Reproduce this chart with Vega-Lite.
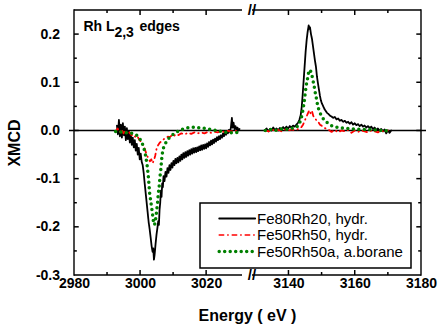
{
  "$schema": "https://vega.github.io/schema/vega-lite/v6.json",
  "autosize": {"type": "none"},
  "padding": {"left": 69, "top": 5, "right": 371, "bottom": 322},
  "background": "white",
  "spacing": 0,
  "bounds": "flush",
  "datasets": {
    "zero": [{"v": 0}],
    "xtL": [{"t": 2990, "a": -0.3, "b": -0.2938}, {"t": 2990, "a": 0.25, "b": 0.2438}, {"t": 3000, "a": -0.3, "b": -0.2896}, {"t": 3000, "a": 0.25, "b": 0.2396}, {"t": 3010, "a": -0.3, "b": -0.2938}, {"t": 3010, "a": 0.25, "b": 0.2438}, {"t": 3020, "a": -0.3, "b": -0.2896}, {"t": 3020, "a": 0.25, "b": 0.2396}],
    "xtR": [{"t": 3140, "a": -0.3, "b": -0.2896}, {"t": 3140, "a": 0.25, "b": 0.2396}, {"t": 3150, "a": -0.3, "b": -0.2938}, {"t": 3150, "a": 0.25, "b": 0.2438}, {"t": 3160, "a": -0.3, "b": -0.2896}, {"t": 3160, "a": 0.25, "b": 0.2396}, {"t": 3170, "a": -0.3, "b": -0.2938}, {"t": 3170, "a": 0.25, "b": 0.2438}],
    "ytL": [{"t": -0.25, "a": 2980, "b": 2980.86}, {"t": -0.2, "a": 2980, "b": 2981.43}, {"t": -0.15, "a": 2980, "b": 2980.86}, {"t": -0.1, "a": 2980, "b": 2981.43}, {"t": -0.05, "a": 2980, "b": 2980.86}, {"t": 0, "a": 2980, "b": 2981.43}, {"t": 0.05, "a": 2980, "b": 2980.86}, {"t": 0.1, "a": 2980, "b": 2981.43}, {"t": 0.15, "a": 2980, "b": 2980.86}, {"t": 0.2, "a": 2980, "b": 2981.43}],
    "ytR": [{"t": -0.25, "a": 3180, "b": 3179.15}, {"t": -0.2, "a": 3180, "b": 3178.58}, {"t": -0.15, "a": 3180, "b": 3179.15}, {"t": -0.1, "a": 3180, "b": 3178.58}, {"t": -0.05, "a": 3180, "b": 3179.15}, {"t": 0, "a": 3180, "b": 3178.58}, {"t": 0.05, "a": 3180, "b": 3179.15}, {"t": 0.1, "a": 3180, "b": 3178.58}, {"t": 0.15, "a": 3180, "b": 3179.15}, {"t": 0.2, "a": 3180, "b": 3178.58}],
    "xmcd": [
      {"s":"Fe80Rh20, hydr.","e":2993.0,"v":0.010},{"s":"Fe80Rh20, hydr.","e":2993.3,"v":-0.008},{"s":"Fe80Rh20, hydr.","e":2993.6,"v":0.022},{"s":"Fe80Rh20, hydr.","e":2993.9,"v":-0.012},{"s":"Fe80Rh20, hydr.","e":2994.2,"v":0.012},{"s":"Fe80Rh20, hydr.","e":2994.5,"v":-0.015},{"s":"Fe80Rh20, hydr.","e":2994.8,"v":0.015},{"s":"Fe80Rh20, hydr.","e":2995.1,"v":-0.010},{"s":"Fe80Rh20, hydr.","e":2995.4,"v":0.008},{"s":"Fe80Rh20, hydr.","e":2995.7,"v":-0.020},{"s":"Fe80Rh20, hydr.","e":2996.0,"v":0.005},{"s":"Fe80Rh20, hydr.","e":2996.3,"v":-0.018},{"s":"Fe80Rh20, hydr.","e":2996.6,"v":-0.002},{"s":"Fe80Rh20, hydr.","e":2996.9,"v":-0.025},{"s":"Fe80Rh20, hydr.","e":2997.2,"v":-0.008},{"s":"Fe80Rh20, hydr.","e":2997.5,"v":-0.030},{"s":"Fe80Rh20, hydr.","e":2997.8,"v":-0.015},{"s":"Fe80Rh20, hydr.","e":2998.1,"v":-0.035},{"s":"Fe80Rh20, hydr.","e":2998.4,"v":-0.020},{"s":"Fe80Rh20, hydr.","e":2998.7,"v":-0.042},{"s":"Fe80Rh20, hydr.","e":2999.0,"v":-0.028},{"s":"Fe80Rh20, hydr.","e":2999.3,"v":-0.050},{"s":"Fe80Rh20, hydr.","e":2999.6,"v":-0.036},{"s":"Fe80Rh20, hydr.","e":2999.9,"v":-0.060},{"s":"Fe80Rh20, hydr.","e":3000.2,"v":-0.048},{"s":"Fe80Rh20, hydr.","e":3000.5,"v":-0.065},{"s":"Fe80Rh20, hydr.","e":3000.8,"v":-0.072},{"s":"Fe80Rh20, hydr.","e":3001.1,"v":-0.088},{"s":"Fe80Rh20, hydr.","e":3001.4,"v":-0.110},{"s":"Fe80Rh20, hydr.","e":3001.7,"v":-0.130},{"s":"Fe80Rh20, hydr.","e":3002.0,"v":-0.150},{"s":"Fe80Rh20, hydr.","e":3002.3,"v":-0.170},{"s":"Fe80Rh20, hydr.","e":3002.6,"v":-0.190},{"s":"Fe80Rh20, hydr.","e":3002.9,"v":-0.205},{"s":"Fe80Rh20, hydr.","e":3003.2,"v":-0.222},{"s":"Fe80Rh20, hydr.","e":3003.5,"v":-0.240},{"s":"Fe80Rh20, hydr.","e":3003.8,"v":-0.252},{"s":"Fe80Rh20, hydr.","e":3004.0,"v":-0.245},{"s":"Fe80Rh20, hydr.","e":3004.2,"v":-0.268},{"s":"Fe80Rh20, hydr.","e":3004.4,"v":-0.258},{"s":"Fe80Rh20, hydr.","e":3004.7,"v":-0.235},{"s":"Fe80Rh20, hydr.","e":3005.0,"v":-0.215},{"s":"Fe80Rh20, hydr.","e":3005.3,"v":-0.200},{"s":"Fe80Rh20, hydr.","e":3005.5,"v":-0.188},{"s":"Fe80Rh20, hydr.","e":3005.7,"v":-0.196},{"s":"Fe80Rh20, hydr.","e":3005.9,"v":-0.165},{"s":"Fe80Rh20, hydr.","e":3006.1,"v":-0.150},{"s":"Fe80Rh20, hydr.","e":3006.3,"v":-0.125},{"s":"Fe80Rh20, hydr.","e":3006.5,"v":-0.138},{"s":"Fe80Rh20, hydr.","e":3006.7,"v":-0.110},{"s":"Fe80Rh20, hydr.","e":3006.9,"v":-0.118},{"s":"Fe80Rh20, hydr.","e":3007.1,"v":-0.095},{"s":"Fe80Rh20, hydr.","e":3007.4,"v":-0.105},{"s":"Fe80Rh20, hydr.","e":3007.7,"v":-0.086},{"s":"Fe80Rh20, hydr.","e":3008.0,"v":-0.096},{"s":"Fe80Rh20, hydr.","e":3008.3,"v":-0.078},{"s":"Fe80Rh20, hydr.","e":3008.6,"v":-0.088},{"s":"Fe80Rh20, hydr.","e":3008.9,"v":-0.072},{"s":"Fe80Rh20, hydr.","e":3009.2,"v":-0.082},{"s":"Fe80Rh20, hydr.","e":3009.5,"v":-0.068},{"s":"Fe80Rh20, hydr.","e":3009.8,"v":-0.077},{"s":"Fe80Rh20, hydr.","e":3010.1,"v":-0.063},{"s":"Fe80Rh20, hydr.","e":3010.4,"v":-0.072},{"s":"Fe80Rh20, hydr.","e":3010.7,"v":-0.059},{"s":"Fe80Rh20, hydr.","e":3011.0,"v":-0.068},{"s":"Fe80Rh20, hydr.","e":3011.3,"v":-0.057},{"s":"Fe80Rh20, hydr.","e":3011.6,"v":-0.066},{"s":"Fe80Rh20, hydr.","e":3011.9,"v":-0.054},{"s":"Fe80Rh20, hydr.","e":3012.2,"v":-0.063},{"s":"Fe80Rh20, hydr.","e":3012.5,"v":-0.050},{"s":"Fe80Rh20, hydr.","e":3012.8,"v":-0.060},{"s":"Fe80Rh20, hydr.","e":3013.1,"v":-0.047},{"s":"Fe80Rh20, hydr.","e":3013.4,"v":-0.057},{"s":"Fe80Rh20, hydr.","e":3013.7,"v":-0.045},{"s":"Fe80Rh20, hydr.","e":3014.0,"v":-0.055},{"s":"Fe80Rh20, hydr.","e":3014.3,"v":-0.043},{"s":"Fe80Rh20, hydr.","e":3014.6,"v":-0.052},{"s":"Fe80Rh20, hydr.","e":3014.9,"v":-0.041},{"s":"Fe80Rh20, hydr.","e":3015.2,"v":-0.050},{"s":"Fe80Rh20, hydr.","e":3015.5,"v":-0.039},{"s":"Fe80Rh20, hydr.","e":3015.8,"v":-0.048},{"s":"Fe80Rh20, hydr.","e":3016.1,"v":-0.037},{"s":"Fe80Rh20, hydr.","e":3016.4,"v":-0.046},{"s":"Fe80Rh20, hydr.","e":3016.7,"v":-0.036},{"s":"Fe80Rh20, hydr.","e":3017.0,"v":-0.045},{"s":"Fe80Rh20, hydr.","e":3017.3,"v":-0.035},{"s":"Fe80Rh20, hydr.","e":3017.6,"v":-0.043},{"s":"Fe80Rh20, hydr.","e":3017.9,"v":-0.033},{"s":"Fe80Rh20, hydr.","e":3018.2,"v":-0.041},{"s":"Fe80Rh20, hydr.","e":3018.5,"v":-0.031},{"s":"Fe80Rh20, hydr.","e":3018.8,"v":-0.040},{"s":"Fe80Rh20, hydr.","e":3019.1,"v":-0.030},{"s":"Fe80Rh20, hydr.","e":3019.4,"v":-0.038},{"s":"Fe80Rh20, hydr.","e":3019.7,"v":-0.029},{"s":"Fe80Rh20, hydr.","e":3020.0,"v":-0.037},{"s":"Fe80Rh20, hydr.","e":3020.3,"v":-0.027},{"s":"Fe80Rh20, hydr.","e":3020.6,"v":-0.034},{"s":"Fe80Rh20, hydr.","e":3020.9,"v":-0.024},{"s":"Fe80Rh20, hydr.","e":3021.2,"v":-0.031},{"s":"Fe80Rh20, hydr.","e":3021.5,"v":-0.021},{"s":"Fe80Rh20, hydr.","e":3021.8,"v":-0.029},{"s":"Fe80Rh20, hydr.","e":3022.1,"v":-0.019},{"s":"Fe80Rh20, hydr.","e":3022.4,"v":-0.026},{"s":"Fe80Rh20, hydr.","e":3022.7,"v":-0.017},{"s":"Fe80Rh20, hydr.","e":3023.0,"v":-0.023},{"s":"Fe80Rh20, hydr.","e":3023.3,"v":-0.014},{"s":"Fe80Rh20, hydr.","e":3023.6,"v":-0.020},{"s":"Fe80Rh20, hydr.","e":3023.9,"v":-0.012},{"s":"Fe80Rh20, hydr.","e":3024.2,"v":-0.018},{"s":"Fe80Rh20, hydr.","e":3024.5,"v":-0.010},{"s":"Fe80Rh20, hydr.","e":3024.8,"v":-0.015},{"s":"Fe80Rh20, hydr.","e":3025.1,"v":-0.006},{"s":"Fe80Rh20, hydr.","e":3025.4,"v":-0.012},{"s":"Fe80Rh20, hydr.","e":3025.7,"v":-0.003},{"s":"Fe80Rh20, hydr.","e":3026.0,"v":-0.009},{"s":"Fe80Rh20, hydr.","e":3026.3,"v":-0.001},{"s":"Fe80Rh20, hydr.","e":3026.6,"v":-0.006},{"s":"Fe80Rh20, hydr.","e":3026.9,"v":0.001},{"s":"Fe80Rh20, hydr.","e":3027.2,"v":-0.003},{"s":"Fe80Rh20, hydr.","e":3027.5,"v":0.006},{"s":"Fe80Rh20, hydr.","e":3027.8,"v":0.026},{"s":"Fe80Rh20, hydr.","e":3028.0,"v":0.006},{"s":"Fe80Rh20, hydr.","e":3028.3,"v":0.016},{"s":"Fe80Rh20, hydr.","e":3028.6,"v":0.003},{"s":"Fe80Rh20, hydr.","e":3028.9,"v":0.009},{"s":"Fe80Rh20, hydr.","e":3029.2,"v":0.001},{"s":"Fe80Rh20, hydr.","e":3029.5,"v":0.006},{"s":"Fe80Rh20, hydr.","e":3029.8,"v":0.000},{"s":"Fe80Rh20, hydr.","e":3030.1,"v":0.003},
      {"s":"Fe80Rh20, hydr.","e":3132.9,"v":0.000},{"s":"Fe80Rh20, hydr.","e":3133.4,"v":0.004},{"s":"Fe80Rh20, hydr.","e":3133.9,"v":-0.002},{"s":"Fe80Rh20, hydr.","e":3134.4,"v":0.003},{"s":"Fe80Rh20, hydr.","e":3134.9,"v":0.000},{"s":"Fe80Rh20, hydr.","e":3135.4,"v":0.006},{"s":"Fe80Rh20, hydr.","e":3135.9,"v":0.001},{"s":"Fe80Rh20, hydr.","e":3136.4,"v":0.004},{"s":"Fe80Rh20, hydr.","e":3136.9,"v":0.000},{"s":"Fe80Rh20, hydr.","e":3137.4,"v":0.005},{"s":"Fe80Rh20, hydr.","e":3137.9,"v":0.002},{"s":"Fe80Rh20, hydr.","e":3138.4,"v":0.007},{"s":"Fe80Rh20, hydr.","e":3138.9,"v":0.003},{"s":"Fe80Rh20, hydr.","e":3139.4,"v":0.008},{"s":"Fe80Rh20, hydr.","e":3139.9,"v":0.004},{"s":"Fe80Rh20, hydr.","e":3140.4,"v":0.009},{"s":"Fe80Rh20, hydr.","e":3140.9,"v":0.006},{"s":"Fe80Rh20, hydr.","e":3141.4,"v":0.010},{"s":"Fe80Rh20, hydr.","e":3141.9,"v":0.008},{"s":"Fe80Rh20, hydr.","e":3142.4,"v":0.012},{"s":"Fe80Rh20, hydr.","e":3142.9,"v":0.016},{"s":"Fe80Rh20, hydr.","e":3143.3,"v":0.022},{"s":"Fe80Rh20, hydr.","e":3143.7,"v":0.032},{"s":"Fe80Rh20, hydr.","e":3144.0,"v":0.048},{"s":"Fe80Rh20, hydr.","e":3144.3,"v":0.075},{"s":"Fe80Rh20, hydr.","e":3144.6,"v":0.105},{"s":"Fe80Rh20, hydr.","e":3144.9,"v":0.135},{"s":"Fe80Rh20, hydr.","e":3145.2,"v":0.165},{"s":"Fe80Rh20, hydr.","e":3145.5,"v":0.188},{"s":"Fe80Rh20, hydr.","e":3145.8,"v":0.205},{"s":"Fe80Rh20, hydr.","e":3146.1,"v":0.218},{"s":"Fe80Rh20, hydr.","e":3146.3,"v":0.211},{"s":"Fe80Rh20, hydr.","e":3146.5,"v":0.214},{"s":"Fe80Rh20, hydr.","e":3146.8,"v":0.200},{"s":"Fe80Rh20, hydr.","e":3147.1,"v":0.190},{"s":"Fe80Rh20, hydr.","e":3147.4,"v":0.175},{"s":"Fe80Rh20, hydr.","e":3147.7,"v":0.160},{"s":"Fe80Rh20, hydr.","e":3148.0,"v":0.145},{"s":"Fe80Rh20, hydr.","e":3148.3,"v":0.132},{"s":"Fe80Rh20, hydr.","e":3148.6,"v":0.112},{"s":"Fe80Rh20, hydr.","e":3148.9,"v":0.098},{"s":"Fe80Rh20, hydr.","e":3149.2,"v":0.085},{"s":"Fe80Rh20, hydr.","e":3149.5,"v":0.072},{"s":"Fe80Rh20, hydr.","e":3149.8,"v":0.062},{"s":"Fe80Rh20, hydr.","e":3150.1,"v":0.056},{"s":"Fe80Rh20, hydr.","e":3150.5,"v":0.050},{"s":"Fe80Rh20, hydr.","e":3150.9,"v":0.044},{"s":"Fe80Rh20, hydr.","e":3151.3,"v":0.040},{"s":"Fe80Rh20, hydr.","e":3151.7,"v":0.036},{"s":"Fe80Rh20, hydr.","e":3152.1,"v":0.034},{"s":"Fe80Rh20, hydr.","e":3152.5,"v":0.031},{"s":"Fe80Rh20, hydr.","e":3153.0,"v":0.029},{"s":"Fe80Rh20, hydr.","e":3153.5,"v":0.026},{"s":"Fe80Rh20, hydr.","e":3154.0,"v":0.028},{"s":"Fe80Rh20, hydr.","e":3154.5,"v":0.023},{"s":"Fe80Rh20, hydr.","e":3155.0,"v":0.025},{"s":"Fe80Rh20, hydr.","e":3155.5,"v":0.020},{"s":"Fe80Rh20, hydr.","e":3156.0,"v":0.022},{"s":"Fe80Rh20, hydr.","e":3156.5,"v":0.018},{"s":"Fe80Rh20, hydr.","e":3157.0,"v":0.020},{"s":"Fe80Rh20, hydr.","e":3157.5,"v":0.016},{"s":"Fe80Rh20, hydr.","e":3158.0,"v":0.018},{"s":"Fe80Rh20, hydr.","e":3158.5,"v":0.014},{"s":"Fe80Rh20, hydr.","e":3159.0,"v":0.017},{"s":"Fe80Rh20, hydr.","e":3159.5,"v":0.012},{"s":"Fe80Rh20, hydr.","e":3160.0,"v":0.015},{"s":"Fe80Rh20, hydr.","e":3160.5,"v":0.011},{"s":"Fe80Rh20, hydr.","e":3161.0,"v":0.013},{"s":"Fe80Rh20, hydr.","e":3161.5,"v":0.009},{"s":"Fe80Rh20, hydr.","e":3162.0,"v":0.012},{"s":"Fe80Rh20, hydr.","e":3162.5,"v":0.008},{"s":"Fe80Rh20, hydr.","e":3163.0,"v":0.010},{"s":"Fe80Rh20, hydr.","e":3163.5,"v":0.006},{"s":"Fe80Rh20, hydr.","e":3164.0,"v":0.009},{"s":"Fe80Rh20, hydr.","e":3164.5,"v":0.005},{"s":"Fe80Rh20, hydr.","e":3165.0,"v":0.008},{"s":"Fe80Rh20, hydr.","e":3165.5,"v":0.003},{"s":"Fe80Rh20, hydr.","e":3166.0,"v":0.006},{"s":"Fe80Rh20, hydr.","e":3166.5,"v":0.001},{"s":"Fe80Rh20, hydr.","e":3167.0,"v":0.004},{"s":"Fe80Rh20, hydr.","e":3167.5,"v":0.000},{"s":"Fe80Rh20, hydr.","e":3168.0,"v":0.003},{"s":"Fe80Rh20, hydr.","e":3168.5,"v":-0.002},{"s":"Fe80Rh20, hydr.","e":3169.0,"v":0.002},{"s":"Fe80Rh20, hydr.","e":3169.5,"v":-0.006},{"s":"Fe80Rh20, hydr.","e":3170.0,"v":0.000},{"s":"Fe80Rh20, hydr.","e":3170.5,"v":-0.005},{"s":"Fe80Rh20, hydr.","e":3171.0,"v":0.000},
      {"s":"Fe50Rh50, hydr.","e":2992.6,"v":-0.002},{"s":"Fe50Rh50, hydr.","e":2993.2,"v":0.004},{"s":"Fe50Rh50, hydr.","e":2993.8,"v":-0.004},{"s":"Fe50Rh50, hydr.","e":2994.4,"v":0.002},{"s":"Fe50Rh50, hydr.","e":2995.0,"v":-0.006},{"s":"Fe50Rh50, hydr.","e":2995.6,"v":0.000},{"s":"Fe50Rh50, hydr.","e":2996.2,"v":-0.008},{"s":"Fe50Rh50, hydr.","e":2996.8,"v":-0.004},{"s":"Fe50Rh50, hydr.","e":2997.4,"v":-0.010},{"s":"Fe50Rh50, hydr.","e":2998.0,"v":-0.008},{"s":"Fe50Rh50, hydr.","e":2998.6,"v":-0.014},{"s":"Fe50Rh50, hydr.","e":2999.2,"v":-0.012},{"s":"Fe50Rh50, hydr.","e":2999.8,"v":-0.020},{"s":"Fe50Rh50, hydr.","e":3000.4,"v":-0.024},{"s":"Fe50Rh50, hydr.","e":3001.0,"v":-0.030},{"s":"Fe50Rh50, hydr.","e":3001.5,"v":-0.040},{"s":"Fe50Rh50, hydr.","e":3002.0,"v":-0.050},{"s":"Fe50Rh50, hydr.","e":3002.5,"v":-0.058},{"s":"Fe50Rh50, hydr.","e":3003.0,"v":-0.064},{"s":"Fe50Rh50, hydr.","e":3003.4,"v":-0.060},{"s":"Fe50Rh50, hydr.","e":3003.8,"v":-0.068},{"s":"Fe50Rh50, hydr.","e":3004.2,"v":-0.062},{"s":"Fe50Rh50, hydr.","e":3004.6,"v":-0.052},{"s":"Fe50Rh50, hydr.","e":3005.0,"v":-0.038},{"s":"Fe50Rh50, hydr.","e":3005.5,"v":-0.030},{"s":"Fe50Rh50, hydr.","e":3006.0,"v":-0.025},{"s":"Fe50Rh50, hydr.","e":3006.6,"v":-0.022},{"s":"Fe50Rh50, hydr.","e":3007.2,"v":-0.018},{"s":"Fe50Rh50, hydr.","e":3007.8,"v":-0.016},{"s":"Fe50Rh50, hydr.","e":3008.4,"v":-0.013},{"s":"Fe50Rh50, hydr.","e":3009.0,"v":-0.014},{"s":"Fe50Rh50, hydr.","e":3009.6,"v":-0.010},{"s":"Fe50Rh50, hydr.","e":3010.2,"v":-0.012},{"s":"Fe50Rh50, hydr.","e":3010.8,"v":-0.008},{"s":"Fe50Rh50, hydr.","e":3011.5,"v":-0.010},{"s":"Fe50Rh50, hydr.","e":3012.5,"v":-0.006},{"s":"Fe50Rh50, hydr.","e":3013.5,"v":-0.008},{"s":"Fe50Rh50, hydr.","e":3014.5,"v":-0.005},{"s":"Fe50Rh50, hydr.","e":3015.5,"v":-0.007},{"s":"Fe50Rh50, hydr.","e":3016.5,"v":-0.004},{"s":"Fe50Rh50, hydr.","e":3017.5,"v":-0.006},{"s":"Fe50Rh50, hydr.","e":3018.5,"v":-0.004},{"s":"Fe50Rh50, hydr.","e":3019.5,"v":-0.006},{"s":"Fe50Rh50, hydr.","e":3020.5,"v":-0.003},{"s":"Fe50Rh50, hydr.","e":3021.5,"v":-0.005},{"s":"Fe50Rh50, hydr.","e":3022.5,"v":-0.003},{"s":"Fe50Rh50, hydr.","e":3023.5,"v":-0.004},{"s":"Fe50Rh50, hydr.","e":3024.5,"v":-0.002},{"s":"Fe50Rh50, hydr.","e":3025.5,"v":-0.003},{"s":"Fe50Rh50, hydr.","e":3026.5,"v":-0.001},{"s":"Fe50Rh50, hydr.","e":3027.5,"v":-0.002},{"s":"Fe50Rh50, hydr.","e":3028.5,"v":0.000},{"s":"Fe50Rh50, hydr.","e":3029.5,"v":-0.002},{"s":"Fe50Rh50, hydr.","e":3030.2,"v":0.000},
      {"s":"Fe50Rh50, hydr.","e":3133.0,"v":0.000},{"s":"Fe50Rh50, hydr.","e":3134.0,"v":-0.002},{"s":"Fe50Rh50, hydr.","e":3135.0,"v":0.002},{"s":"Fe50Rh50, hydr.","e":3136.0,"v":-0.001},{"s":"Fe50Rh50, hydr.","e":3137.0,"v":0.001},{"s":"Fe50Rh50, hydr.","e":3138.0,"v":-0.002},{"s":"Fe50Rh50, hydr.","e":3139.0,"v":0.002},{"s":"Fe50Rh50, hydr.","e":3140.0,"v":0.000},{"s":"Fe50Rh50, hydr.","e":3141.0,"v":0.002},{"s":"Fe50Rh50, hydr.","e":3142.0,"v":0.001},{"s":"Fe50Rh50, hydr.","e":3143.0,"v":0.003},{"s":"Fe50Rh50, hydr.","e":3143.8,"v":0.006},{"s":"Fe50Rh50, hydr.","e":3144.4,"v":0.012},{"s":"Fe50Rh50, hydr.","e":3144.9,"v":0.020},{"s":"Fe50Rh50, hydr.","e":3145.4,"v":0.028},{"s":"Fe50Rh50, hydr.","e":3145.9,"v":0.036},{"s":"Fe50Rh50, hydr.","e":3146.3,"v":0.042},{"s":"Fe50Rh50, hydr.","e":3146.7,"v":0.035},{"s":"Fe50Rh50, hydr.","e":3147.1,"v":0.040},{"s":"Fe50Rh50, hydr.","e":3147.5,"v":0.030},{"s":"Fe50Rh50, hydr.","e":3148.0,"v":0.026},{"s":"Fe50Rh50, hydr.","e":3148.5,"v":0.020},{"s":"Fe50Rh50, hydr.","e":3149.0,"v":0.018},{"s":"Fe50Rh50, hydr.","e":3149.5,"v":0.012},{"s":"Fe50Rh50, hydr.","e":3150.0,"v":0.010},{"s":"Fe50Rh50, hydr.","e":3150.6,"v":0.006},{"s":"Fe50Rh50, hydr.","e":3151.3,"v":0.004},{"s":"Fe50Rh50, hydr.","e":3152.0,"v":0.002},{"s":"Fe50Rh50, hydr.","e":3153.0,"v":-0.003},{"s":"Fe50Rh50, hydr.","e":3154.0,"v":0.001},{"s":"Fe50Rh50, hydr.","e":3155.0,"v":-0.004},{"s":"Fe50Rh50, hydr.","e":3156.0,"v":0.000},{"s":"Fe50Rh50, hydr.","e":3157.0,"v":-0.002},{"s":"Fe50Rh50, hydr.","e":3158.0,"v":0.001},{"s":"Fe50Rh50, hydr.","e":3159.0,"v":-0.005},{"s":"Fe50Rh50, hydr.","e":3160.0,"v":0.000},{"s":"Fe50Rh50, hydr.","e":3161.0,"v":-0.003},{"s":"Fe50Rh50, hydr.","e":3162.0,"v":0.000},{"s":"Fe50Rh50, hydr.","e":3163.0,"v":-0.002},{"s":"Fe50Rh50, hydr.","e":3164.0,"v":-0.004},{"s":"Fe50Rh50, hydr.","e":3165.0,"v":0.000},{"s":"Fe50Rh50, hydr.","e":3166.0,"v":-0.002},{"s":"Fe50Rh50, hydr.","e":3167.0,"v":-0.004},{"s":"Fe50Rh50, hydr.","e":3168.0,"v":0.000},{"s":"Fe50Rh50, hydr.","e":3169.0,"v":-0.003},{"s":"Fe50Rh50, hydr.","e":3170.0,"v":0.000},
      {"s":"Fe50Rh50a, a.borane","e":2992.6,"v":-0.002},{"s":"Fe50Rh50a, a.borane","e":2993.6,"v":-0.004},{"s":"Fe50Rh50a, a.borane","e":2994.6,"v":-0.003},{"s":"Fe50Rh50a, a.borane","e":2995.6,"v":-0.005},{"s":"Fe50Rh50a, a.borane","e":2996.6,"v":-0.004},{"s":"Fe50Rh50a, a.borane","e":2997.6,"v":-0.006},{"s":"Fe50Rh50a, a.borane","e":2998.6,"v":-0.008},{"s":"Fe50Rh50a, a.borane","e":2999.4,"v":-0.012},{"s":"Fe50Rh50a, a.borane","e":3000.0,"v":-0.018},{"s":"Fe50Rh50a, a.borane","e":3000.6,"v":-0.026},{"s":"Fe50Rh50a, a.borane","e":3001.1,"v":-0.035},{"s":"Fe50Rh50a, a.borane","e":3001.6,"v":-0.050},{"s":"Fe50Rh50a, a.borane","e":3002.1,"v":-0.070},{"s":"Fe50Rh50a, a.borane","e":3002.5,"v":-0.095},{"s":"Fe50Rh50a, a.borane","e":3002.9,"v":-0.130},{"s":"Fe50Rh50a, a.borane","e":3003.3,"v":-0.150},{"s":"Fe50Rh50a, a.borane","e":3003.7,"v":-0.170},{"s":"Fe50Rh50a, a.borane","e":3004.1,"v":-0.192},{"s":"Fe50Rh50a, a.borane","e":3004.4,"v":-0.196},{"s":"Fe50Rh50a, a.borane","e":3004.7,"v":-0.185},{"s":"Fe50Rh50a, a.borane","e":3005.0,"v":-0.168},{"s":"Fe50Rh50a, a.borane","e":3005.3,"v":-0.150},{"s":"Fe50Rh50a, a.borane","e":3005.5,"v":-0.133},{"s":"Fe50Rh50a, a.borane","e":3005.8,"v":-0.115},{"s":"Fe50Rh50a, a.borane","e":3006.0,"v":-0.098},{"s":"Fe50Rh50a, a.borane","e":3006.3,"v":-0.080},{"s":"Fe50Rh50a, a.borane","e":3006.5,"v":-0.062},{"s":"Fe50Rh50a, a.borane","e":3006.8,"v":-0.045},{"s":"Fe50Rh50a, a.borane","e":3007.2,"v":-0.033},{"s":"Fe50Rh50a, a.borane","e":3007.9,"v":-0.024},{"s":"Fe50Rh50a, a.borane","e":3008.6,"v":-0.017},{"s":"Fe50Rh50a, a.borane","e":3009.3,"v":-0.012},{"s":"Fe50Rh50a, a.borane","e":3010.2,"v":-0.007},{"s":"Fe50Rh50a, a.borane","e":3011.2,"v":-0.003},{"s":"Fe50Rh50a, a.borane","e":3012.5,"v":0.002},{"s":"Fe50Rh50a, a.borane","e":3014.0,"v":0.005},{"s":"Fe50Rh50a, a.borane","e":3015.5,"v":0.007},{"s":"Fe50Rh50a, a.borane","e":3017.0,"v":0.006},{"s":"Fe50Rh50a, a.borane","e":3018.5,"v":0.005},{"s":"Fe50Rh50a, a.borane","e":3020.0,"v":0.004},{"s":"Fe50Rh50a, a.borane","e":3021.5,"v":0.002},{"s":"Fe50Rh50a, a.borane","e":3023.0,"v":0.000},{"s":"Fe50Rh50a, a.borane","e":3024.5,"v":-0.002},{"s":"Fe50Rh50a, a.borane","e":3026.0,"v":-0.004},{"s":"Fe50Rh50a, a.borane","e":3027.5,"v":-0.005},{"s":"Fe50Rh50a, a.borane","e":3029.0,"v":-0.004},{"s":"Fe50Rh50a, a.borane","e":3030.2,"v":-0.004},
      {"s":"Fe50Rh50a, a.borane","e":3133.0,"v":0.000},{"s":"Fe50Rh50a, a.borane","e":3134.5,"v":0.002},{"s":"Fe50Rh50a, a.borane","e":3136.0,"v":0.000},{"s":"Fe50Rh50a, a.borane","e":3137.5,"v":0.003},{"s":"Fe50Rh50a, a.borane","e":3139.0,"v":0.002},{"s":"Fe50Rh50a, a.borane","e":3140.5,"v":0.004},{"s":"Fe50Rh50a, a.borane","e":3142.0,"v":0.005},{"s":"Fe50Rh50a, a.borane","e":3143.0,"v":0.010},{"s":"Fe50Rh50a, a.borane","e":3143.6,"v":0.020},{"s":"Fe50Rh50a, a.borane","e":3144.1,"v":0.032},{"s":"Fe50Rh50a, a.borane","e":3144.5,"v":0.048},{"s":"Fe50Rh50a, a.borane","e":3144.8,"v":0.062},{"s":"Fe50Rh50a, a.borane","e":3145.1,"v":0.080},{"s":"Fe50Rh50a, a.borane","e":3145.4,"v":0.095},{"s":"Fe50Rh50a, a.borane","e":3145.7,"v":0.105},{"s":"Fe50Rh50a, a.borane","e":3146.0,"v":0.118},{"s":"Fe50Rh50a, a.borane","e":3146.4,"v":0.126},{"s":"Fe50Rh50a, a.borane","e":3146.8,"v":0.122},{"s":"Fe50Rh50a, a.borane","e":3147.1,"v":0.114},{"s":"Fe50Rh50a, a.borane","e":3147.4,"v":0.104},{"s":"Fe50Rh50a, a.borane","e":3147.8,"v":0.090},{"s":"Fe50Rh50a, a.borane","e":3148.1,"v":0.078},{"s":"Fe50Rh50a, a.borane","e":3148.5,"v":0.064},{"s":"Fe50Rh50a, a.borane","e":3148.8,"v":0.052},{"s":"Fe50Rh50a, a.borane","e":3149.2,"v":0.042},{"s":"Fe50Rh50a, a.borane","e":3149.7,"v":0.034},{"s":"Fe50Rh50a, a.borane","e":3150.3,"v":0.026},{"s":"Fe50Rh50a, a.borane","e":3151.0,"v":0.020},{"s":"Fe50Rh50a, a.borane","e":3151.9,"v":0.015},{"s":"Fe50Rh50a, a.borane","e":3153.0,"v":0.010},{"s":"Fe50Rh50a, a.borane","e":3154.3,"v":0.007},{"s":"Fe50Rh50a, a.borane","e":3156.0,"v":0.005},{"s":"Fe50Rh50a, a.borane","e":3158.0,"v":0.004},{"s":"Fe50Rh50a, a.borane","e":3160.0,"v":0.003},{"s":"Fe50Rh50a, a.borane","e":3162.0,"v":0.002},{"s":"Fe50Rh50a, a.borane","e":3164.0,"v":0.002},{"s":"Fe50Rh50a, a.borane","e":3166.0,"v":0.001},{"s":"Fe50Rh50a, a.borane","e":3168.0,"v":0.000},{"s":"Fe50Rh50a, a.borane","e":3170.0,"v":-0.001}
    ]
  },
  "hconcat": [
    {
      "width": 178,
      "height": 275,
      "resolve": {"axis": {"x": "independent", "y": "independent"}},
      "layer": [
        {
          "data": {"name": "zero"},
          "mark": {"type": "rule", "color": "black", "strokeWidth": 1.5},
          "encoding": {
            "y": {"field": "v", "type": "quantitative", "scale": {"domain": [-0.3, 0.25], "nice": false, "zero": false}, "axis": null}
          }
        },
        {
          "data": {"values": [{}]},
          "mark": {"type": "rect", "color": "black"},
          "encoding": {
            "x": {"datum": 2980, "type": "quantitative", "scale": {"domain": [2980, 3030.86], "nice": false, "zero": false}, "axis": null},
            "x2": {"datum": 3030.86},
            "y": {"datum": 0.25156, "type": "quantitative", "scale": {"domain": [-0.3, 0.25], "nice": false, "zero": false}, "axis": null},
            "y2": {"datum": 0.24844}
          }
        },
        {
          "data": {"values": [{}]},
          "mark": {"type": "rect", "color": "black"},
          "encoding": {
            "x": {"datum": 2980, "type": "quantitative", "axis": null},
            "x2": {"datum": 3030.86},
            "y": {"datum": -0.29844, "type": "quantitative", "axis": null},
            "y2": {"datum": -0.30156}
          }
        },
        {
          "data": {"values": [{}]},
          "mark": {"type": "rect", "color": "black"},
          "encoding": {
            "x": {"datum": 2979.786, "type": "quantitative", "axis": null},
            "x2": {"datum": 2980.214},
            "y": {"datum": -0.30156, "type": "quantitative", "axis": null},
            "y2": {"datum": 0.25156}
          }
        },
        {
          "data": {"name": "xtL"},
          "mark": {"type": "bar", "color": "black", "width": 1.5},
          "encoding": {
            "x": {"field": "t", "type": "quantitative", "axis": null},
            "y": {"field": "a", "type": "quantitative", "axis": null},
            "y2": {"field": "b"}
          }
        },
        {
          "data": {"name": "ytL"},
          "mark": {"type": "bar", "color": "black", "height": 1.5},
          "encoding": {
            "y": {"field": "t", "type": "quantitative", "axis": null},
            "x": {"field": "a", "type": "quantitative", "axis": null},
            "x2": {"field": "b"}
          }
        },
        {
          "data": {"name": "xmcd"},
          "transform": [{"filter": "datum.e < 3100"}],
          "mark": {"type": "line", "strokeCap": "round", "strokeJoin": "round"},
          "encoding": {
            "x": {"field": "e", "type": "quantitative",
                  "scale": {"domain": [2980, 3030.86], "nice": false, "zero": false},
                  "axis": {"orient": "bottom", "values": [2980, 3000, 3020], "format": "d",
                           "domain": false, "ticks": false,
                           "labelPadding": -4, "labelFlush": false, "labelOverlap": false,
                           "title": "Energy ( eV )", "titleX": 178, "titleY": 35, "titleBaseline": "middle", "titleAlign": "center"}},
            "y": {"field": "v", "type": "quantitative",
                  "scale": {"domain": [-0.3, 0.25], "nice": false, "zero": false},
                  "axis": {"orient": "left", "values": [-0.3, -0.2, -0.1, 0, 0.1, 0.2],
                           "format": ".1f",
                           "domain": false, "ticks": false,
                           "labelPadding": 9.5, "labelFlush": false, "labelOverlap": false,
                           "title": "XMCD", "titleX": -55, "titleY": 137.5, "titleBaseline": "middle", "titleAlign": "center", "titleAngle": 270}},
            "color": {"field": "s", "type": "nominal",
                      "scale": {"domain": ["Fe80Rh20, hydr.", "Fe50Rh50, hydr.", "Fe50Rh50a, a.borane"], "range": ["black", "#ff0000", "#008000"]},
                      "legend": {"title": null,
                                 "encode": {"symbols": {"update": {"strokeCap": {"value": "round"},
                                                                   "strokeWidth": {"signal": "datum.value == 'Fe50Rh50a, a.borane' ? 3.5 : (datum.value == 'Fe50Rh50, hydr.' ? 1.5 : 1.8)"}}},
                                            "legend": {"update": {"strokeWidth": {"value": 1.5}}}}}},
            "strokeDash": {"field": "s", "type": "nominal",
                      "scale": {"domain": ["Fe80Rh20, hydr.", "Fe50Rh50, hydr.", "Fe50Rh50a, a.borane"], "range": [[1, 0], [4.5, 4, 0.5, 4], [0, 5.5]]},
                      "legend": {"title": null}},
            "strokeWidth": {"condition": {"test": "datum.s == 'Fe50Rh50a, a.borane'", "value": 3.5},
                            "value": 1.8}
          }
        },
        {
          "data": {"values": [{}]},
          "mark": {"type": "text", "text": "Rh L", "align": "left", "baseline": "alphabetic", "font": "Liberation Sans", "fontWeight": "bold", "fontSize": 14, "color": "black"},
          "encoding": {
            "x": {"datum": 2982.86, "type": "quantitative", "axis": null},
            "y": {"datum": 0.207, "type": "quantitative", "axis": null}
          }
        },
        {
          "data": {"values": [{}]},
          "mark": {"type": "text", "text": "2,3", "align": "left", "baseline": "alphabetic", "dx": 31, "dy": 6, "font": "Liberation Sans", "fontWeight": "bold", "fontSize": 14, "color": "black"},
          "encoding": {
            "x": {"datum": 2982.86, "type": "quantitative", "axis": null},
            "y": {"datum": 0.207, "type": "quantitative", "axis": null}
          }
        },
        {
          "data": {"values": [{}]},
          "mark": {"type": "text", "text": "edges", "align": "left", "baseline": "alphabetic", "dx": 56, "font": "Liberation Sans", "fontWeight": "bold", "fontSize": 14, "color": "black"},
          "encoding": {
            "x": {"datum": 2982.86, "type": "quantitative", "axis": null},
            "y": {"datum": 0.207, "type": "quantitative", "axis": null}
          }
        }
      ]
    },
    {
      "width": 179,
      "height": 275,
      "resolve": {"axis": {"x": "independent", "y": "independent"}},
      "layer": [
        {
          "data": {"name": "zero"},
          "mark": {"type": "rule", "color": "black", "strokeWidth": 1.5},
          "encoding": {
            "y": {"field": "v", "type": "quantitative", "scale": {"domain": [-0.3, 0.25], "nice": false, "zero": false}, "axis": null}
          }
        },
        {
          "data": {"values": [{}]},
          "mark": {"type": "rect", "color": "black"},
          "encoding": {
            "x": {"datum": 3129, "type": "quantitative", "scale": {"domain": [3129, 3180], "nice": false, "zero": false}, "axis": null},
            "x2": {"datum": 3180},
            "y": {"datum": 0.25156, "type": "quantitative", "scale": {"domain": [-0.3, 0.25], "nice": false, "zero": false}, "axis": null},
            "y2": {"datum": 0.24844}
          }
        },
        {
          "data": {"values": [{}]},
          "mark": {"type": "rect", "color": "black"},
          "encoding": {
            "x": {"datum": 3129, "type": "quantitative", "axis": null},
            "x2": {"datum": 3180},
            "y": {"datum": -0.29844, "type": "quantitative", "axis": null},
            "y2": {"datum": -0.30156}
          }
        },
        {
          "data": {"values": [{}]},
          "mark": {"type": "rect", "color": "black"},
          "encoding": {
            "x": {"datum": 3179.786, "type": "quantitative", "axis": null},
            "x2": {"datum": 3180.214},
            "y": {"datum": -0.30156, "type": "quantitative", "axis": null},
            "y2": {"datum": 0.25156}
          }
        },
        {
          "data": {"name": "xtR"},
          "mark": {"type": "bar", "color": "black", "width": 1.5},
          "encoding": {
            "x": {"field": "t", "type": "quantitative", "axis": null},
            "y": {"field": "a", "type": "quantitative", "axis": null},
            "y2": {"field": "b"}
          }
        },
        {
          "data": {"name": "ytR"},
          "mark": {"type": "bar", "color": "black", "height": 1.5},
          "encoding": {
            "y": {"field": "t", "type": "quantitative", "axis": null},
            "x": {"field": "a", "type": "quantitative", "axis": null},
            "x2": {"field": "b"}
          }
        },
        {
          "data": {"name": "xmcd"},
          "transform": [{"filter": "datum.e > 3100"}],
          "mark": {"type": "line", "strokeCap": "round", "strokeJoin": "round"},
          "encoding": {
            "x": {"field": "e", "type": "quantitative",
                  "scale": {"domain": [3129, 3180], "nice": false, "zero": false},
                  "axis": {"orient": "bottom", "values": [3140, 3160, 3180], "format": "d",
                           "domain": false, "ticks": false,
                           "labelPadding": -4, "labelFlush": false, "labelOverlap": false, "title": null}},
            "y": {"field": "v", "type": "quantitative",
                  "scale": {"domain": [-0.3, 0.25], "nice": false, "zero": false},
                  "axis": null},
            "color": {"field": "s", "type": "nominal",
                      "scale": {"domain": ["Fe80Rh20, hydr.", "Fe50Rh50, hydr.", "Fe50Rh50a, a.borane"], "range": ["black", "#ff0000", "#008000"]},
                      "legend": {"title": null}},
            "strokeDash": {"field": "s", "type": "nominal",
                      "scale": {"domain": ["Fe80Rh20, hydr.", "Fe50Rh50, hydr.", "Fe50Rh50a, a.borane"], "range": [[1, 0], [4.5, 4, 0.5, 4], [0, 5.5]]},
                      "legend": {"title": null}},
            "strokeWidth": {"condition": {"test": "datum.s == 'Fe50Rh50a, a.borane'", "value": 3.5},
                            "value": 1.8}
          }
        },
        {
          "data": {"values": [{}]},
          "mark": {"type": "text", "text": "//", "align": "center", "baseline": "middle", "font": "Liberation Sans", "fontWeight": "bold", "fontSize": 15, "color": "black"},
          "encoding": {
            "x": {"datum": 3129, "type": "quantitative", "axis": null},
            "y": {"datum": 0.25, "type": "quantitative", "axis": null}
          }
        },
        {
          "data": {"values": [{}]},
          "mark": {"type": "text", "text": "//", "align": "center", "baseline": "middle", "font": "Liberation Sans", "fontWeight": "bold", "fontSize": 15, "color": "black"},
          "encoding": {
            "x": {"datum": 3129, "type": "quantitative", "axis": null},
            "y": {"datum": -0.3, "type": "quantitative", "axis": null}
          }
        }
      ]
    }
  ],
  "config": {
    "locale": {"number": {"decimal": ".", "thousands": ",", "grouping": [3], "currency": ["$", ""], "minus": "-"}},
    "view": {"stroke": null},
    "axis": {
      "grid": false,
      "labelFont": "Liberation Sans", "labelFontWeight": "bold", "labelFontSize": 14, "labelColor": "black",
      "titleFont": "Liberation Sans", "titleFontWeight": "bold", "titleFontSize": 16, "titleColor": "black"
    },
    "legend": {
      "orient": "none", "legendX": 131, "legendY": 198,
      "strokeColor": "black", "padding": 8,
      "symbolType": "M-1,0H5", "symbolSize": 144, "symbolOffset": 9.7,
      "labelFont": "Liberation Sans", "labelFontSize": 15, "labelColor": "black",
      "labelOffset": 24.3, "rowPadding": 0.5, "labelLimit": 300
    }
  }
}
